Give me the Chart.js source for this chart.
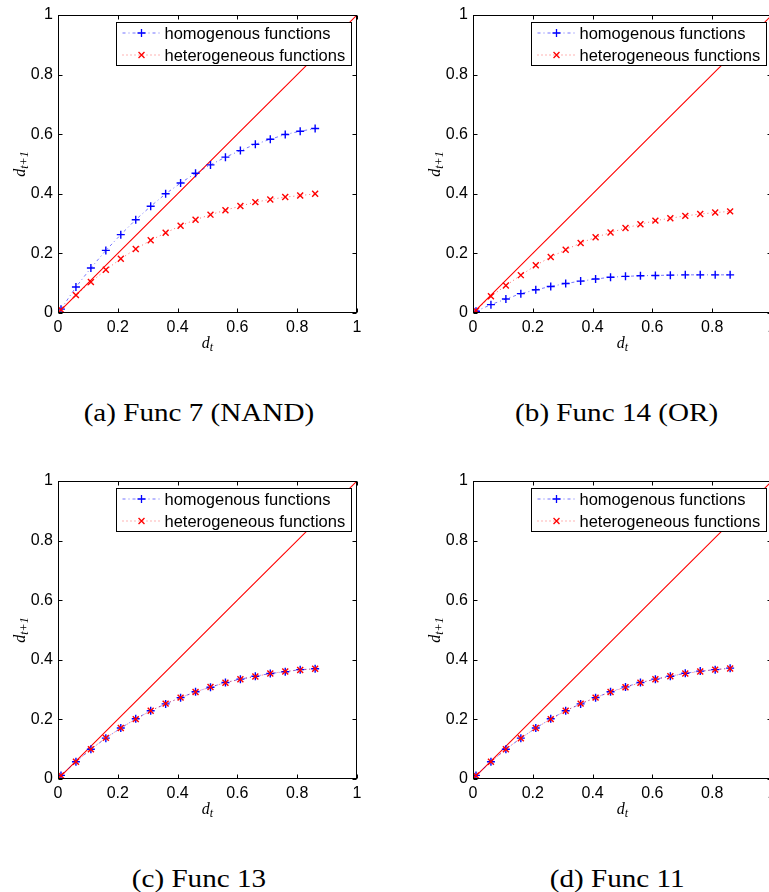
<!DOCTYPE html>
<html>
<head>
<meta charset="utf-8">
<script src="https://cdn.jsdelivr.net/npm/chart.js@4.4.1/dist/chart.umd.min.js"></script>
<style>
  html, body { margin: 0; padding: 0; background: #fff; }
  body { position: relative; width: 769px; height: 892px; overflow: hidden; }
  .panel { position: absolute; width: 369px; height: 360px; }
  .caption { position: absolute; width: 320px; text-align: center; line-height: 30px;
             font-family: "Liberation Serif", serif; font-size: 26px; color: #000; }
  .caption span { display: inline-block; transform: scaleX(1.12); }
</style>
</head>
<body>
<div class="panel" style="left:0;top:0"><canvas id="c0" width="369" height="360"></canvas></div>
<div class="panel" style="left:415px;top:0"><canvas id="c1" width="369" height="360"></canvas></div>
<div class="panel" style="left:0;top:466px"><canvas id="c2" width="369" height="360"></canvas></div>
<div class="panel" style="left:415px;top:466px"><canvas id="c3" width="369" height="360"></canvas></div>
<div class="caption" style="left:39px;top:398px"><span id="cap0"></span></div>
<div class="caption" style="left:457px;top:398px"><span id="cap1"></span></div>
<div class="caption" style="left:39px;top:864px"><span id="cap2"></span></div>
<div class="caption" style="left:457px;top:864px"><span id="cap3"></span></div>
<script>
// d_t values (x axis)
const dt = [0.01, 0.06, 0.11, 0.16, 0.21, 0.26, 0.31, 0.36, 0.41, 0.46, 0.51, 0.56, 0.61, 0.66, 0.71, 0.76, 0.81, 0.86];

// Func 7 (NAND)
const func7Homo   = [0.013, 0.087, 0.151, 0.210, 0.263, 0.313, 0.358, 0.400, 0.436, 0.469, 0.497, 0.523, 0.545, 0.566, 0.583, 0.599, 0.610, 0.619];
const func7Hetero = [0.011, 0.060, 0.104, 0.145, 0.182, 0.215, 0.244, 0.269, 0.293, 0.313, 0.330, 0.345, 0.359, 0.372, 0.381, 0.389, 0.394, 0.400];
// Func 14 (OR)
const func14Homo   = [0.006, 0.028, 0.047, 0.065, 0.078, 0.089, 0.099, 0.107, 0.114, 0.120, 0.123, 0.125, 0.126, 0.127, 0.128, 0.128, 0.128, 0.128];
const func14Hetero = [0.008, 0.056, 0.092, 0.127, 0.160, 0.188, 0.212, 0.235, 0.254, 0.270, 0.285, 0.298, 0.310, 0.318, 0.326, 0.332, 0.337, 0.341];
// Func 13
const func13Homo   = [0.012, 0.058, 0.100, 0.137, 0.171, 0.202, 0.229, 0.252, 0.273, 0.293, 0.308, 0.324, 0.335, 0.345, 0.354, 0.360, 0.367, 0.370];
const func13Hetero = [0.012, 0.058, 0.100, 0.138, 0.171, 0.201, 0.229, 0.253, 0.273, 0.292, 0.309, 0.323, 0.335, 0.344, 0.354, 0.361, 0.366, 0.370];
// Func 11
const func11Homo   = [0.012, 0.058, 0.100, 0.137, 0.171, 0.202, 0.229, 0.252, 0.273, 0.293, 0.309, 0.324, 0.335, 0.345, 0.355, 0.362, 0.367, 0.372];
const func11Hetero = [0.012, 0.058, 0.100, 0.137, 0.171, 0.201, 0.229, 0.253, 0.273, 0.292, 0.308, 0.323, 0.335, 0.345, 0.354, 0.361, 0.367, 0.371];

const seriesLabels = ["homogenous functions", "heterogeneous functions"];
const tickValues = [0, 0.2, 0.4, 0.6, 0.8, 1];
const captions = ["(a) Func 7 (NAND)", "(b) Func 14 (OR)", "(c) Func 13", "(d) Func 11"];
const panels = [
  [func7Homo, func7Hetero],
  [func14Homo, func14Hetero],
  [func13Homo, func13Hetero],
  [func11Homo, func11Hetero]
];

const BLUE = "#0000ff";
const RED = "#ff0000";

function drawMarker(ctx, style, x, y, r, color) {
  ctx.save();
  ctx.setLineDash([]);
  ctx.strokeStyle = color;
  ctx.lineWidth = 1.3;
  ctx.beginPath();
  if (style === "cross") {
    ctx.moveTo(x - r, y); ctx.lineTo(x + r, y);
    ctx.moveTo(x, y - r); ctx.lineTo(x, y + r);
  } else {
    const d = r * 0.707;
    ctx.moveTo(x - d, y - d); ctx.lineTo(x + d, y + d);
    ctx.moveTo(x - d, y + d); ctx.lineTo(x + d, y - d);
  }
  ctx.stroke();
  ctx.restore();
}

// box, inward ticks, axis titles and MATLAB-like legend
const matlabFrame = {
  id: "matlabFrame",
  afterDraw(chart) {
    const { ctx, chartArea: a, scales: { x, y } } = chart;
    ctx.save();
    ctx.beginPath();
    ctx.setLineDash([]);
    ctx.strokeStyle = "#000";
    ctx.lineWidth = 1;
    const L = Math.round(a.left) + 0.5, R = Math.round(a.right) - 0.5;
    const T = Math.round(a.top) + 0.5, B = Math.round(a.bottom) - 0.5;
    ctx.strokeRect(L, T, R - L, B - T);
    ctx.beginPath();
    tickValues.forEach(v => {
      const px = Math.round(x.getPixelForValue(v)) + 0.5;
      ctx.moveTo(px, B); ctx.lineTo(px, B - 4);
      ctx.moveTo(px, T); ctx.lineTo(px, T + 4);
      const py = Math.round(y.getPixelForValue(v)) + 0.5;
      ctx.moveTo(L, py); ctx.lineTo(L + 4, py);
      ctx.moveTo(R, py); ctx.lineTo(R - 4, py);
    });
    ctx.stroke();

    // x title d_t
    ctx.fillStyle = "#000";
    ctx.textBaseline = "alphabetic";
    const big = 'italic 16px "Liberation Serif"', small = 'italic 12px "Liberation Serif"';
    ctx.font = big; const wd = ctx.measureText("d").width;
    ctx.font = small; const wt = ctx.measureText("t").width;
    let sx = (a.left + a.right) / 2 - (wd + wt) / 2;
    ctx.font = big; ctx.fillText("d", sx, 348);
    ctx.font = small; ctx.fillText("t", sx + wd, 351);

    // y title d_{t+1}
    ctx.save();
    ctx.translate(25, (a.top + a.bottom) / 2);
    ctx.rotate(-Math.PI / 2);
    ctx.font = small; const ws = ctx.measureText("t+1").width;
    sx = -(wd + ws) / 2;
    ctx.font = big; ctx.fillText("d", sx, 0);
    ctx.font = small; ctx.fillText("t+1", sx + wd, 3);
    ctx.restore();

    // legend
    const bw = 235, bh = 43;
    const bx = Math.round(a.right) - 6 - bw + 0.5, by = Math.round(a.top) + 7 + 0.5;
    ctx.fillStyle = "#fff";
    ctx.fillRect(bx, by, bw, bh);
    ctx.strokeStyle = "#000";
    ctx.strokeRect(bx, by, bw, bh);
    ctx.font = '16.5px "Liberation Sans"';
    ctx.textBaseline = "middle";
    const sets = chart.data.datasets.filter(d => d.label);
    sets.forEach((ds, i) => {
      const ry = by + 10.5 + i * 22;
      ctx.save();
      ctx.strokeStyle = ds.borderColor;
      ctx.lineWidth = 1;
      ctx.setLineDash(ds.borderDash);
      ctx.beginPath();
      ctx.moveTo(bx + 6, ry); ctx.lineTo(bx + 44, ry);
      ctx.stroke();
      ctx.restore();
      drawMarker(ctx, ds.pointStyle, bx + 25, ry, ds.pointRadius, ds.pointBorderColor);
      ctx.fillStyle = "#000";
      ctx.fillText(ds.label, bx + 48, ry + 1);
    });
    ctx.restore();
  }
};

const tickFont = { family: "Liberation Sans", size: 16 };
const fmtTick = v => String(Number(v.toFixed(1)));

panels.forEach((pair, k) => {
  const toPts = vals => dt.map((x, i) => ({ x, y: vals[i] }));
  new Chart(document.getElementById("c" + k), {
    type: "line",
    data: {
      datasets: [
        {
          label: seriesLabels[0], data: toPts(pair[0]), order: 1,
          borderColor: "rgba(0,0,255,0.55)", borderWidth: 1, borderDash: [3, 3, 1, 3],
          pointStyle: "cross", pointRadius: 4, pointBorderColor: BLUE, pointBorderWidth: 1.4,
          pointHoverRadius: 4, fill: false
        },
        {
          label: seriesLabels[1], data: toPts(pair[1]), order: 0,
          borderColor: "rgba(255,0,0,0.6)", borderWidth: 1, borderDash: [1, 3],
          pointStyle: "crossRot", pointRadius: 4.2, pointBorderColor: RED, pointBorderWidth: 1.4,
          pointHoverRadius: 4.2, fill: false
        },
        {
          // y = x reference line
          label: "", data: tickValues.map(v => ({ x: v, y: v })), order: 2,
          borderColor: RED, pointBorderColor: RED, pointBackgroundColor: RED,
          borderWidth: 1.1, borderDash: [], pointRadius: 0, pointHoverRadius: 0, fill: false
        }
      ]
    },
    options: {
      responsive: false,
      animation: false,
      events: [],
      layout: { padding: { top: 15, right: 12, left: 0, bottom: 0 } },
      plugins: { legend: { display: false }, tooltip: { enabled: false } },
      scales: {
        x: {
          type: "linear", min: 0, max: 1,
          ticks: { stepSize: 0.2, color: "#000", font: tickFont, padding: 5, maxRotation: 0, autoSkip: false, callback: fmtTick },
          grid: { display: false, drawTicks: false }, border: { display: false },
          afterFit(s) { s.height = 47; }
        },
        y: {
          type: "linear", min: 0, max: 1,
          ticks: { stepSize: 0.2, color: "#000", font: tickFont, padding: 5, autoSkip: false, callback: fmtTick },
          grid: { display: false, drawTicks: false }, border: { display: false },
          afterFit(s) { s.width = 58; }
        }
      }
    },
    plugins: [matlabFrame]
  });
  document.getElementById("cap" + k).textContent = captions[k];
});
</script>
</body>
</html>
